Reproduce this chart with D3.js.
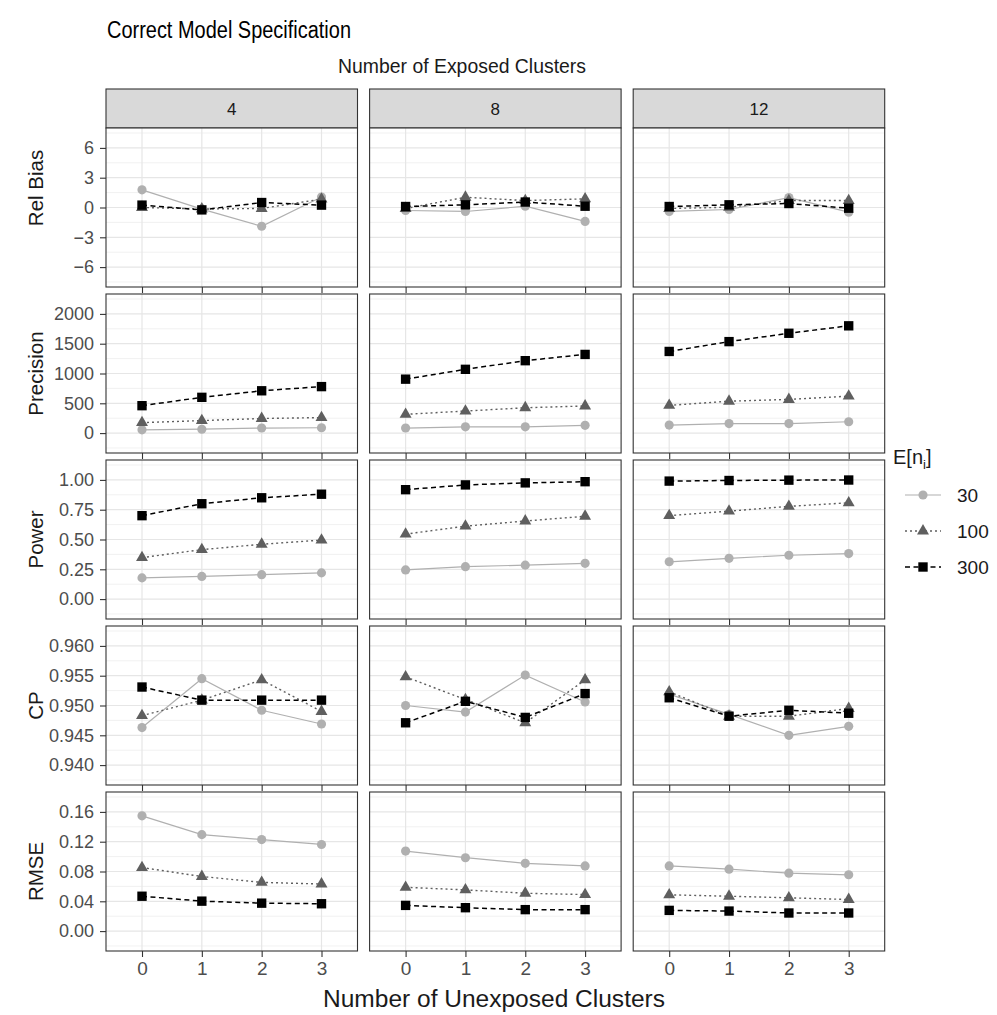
<!DOCTYPE html>
<html>
<head>
<meta charset="utf-8">
<script src="https://cdn.jsdelivr.net/npm/d3@7"></script>
<style>
  body { margin: 0; background: #fff; }
  text { font-family: "Liberation Sans", Arial, sans-serif; }
</style>
</head>
<body>
<svg id="chart" width="997" height="1015"></svg>
<script>
// ---- data ----
const exposed = ["4", "8", "12"];
const unexposed = [0, 1, 2, 3];
const sizes = ["30", "100", "300"];
const metricNames = ["Rel Bias", "Precision", "Power", "CP", "RMSE"];

// each metric: [exposed 4, 8, 12] x [n=30, n=100, n=300] x unexposed 0..3
const relBias = [
  [[1.78, -0.17, -1.89, 1.05], [0.0, -0.15, -0.1, 0.85], [0.24, -0.24, 0.5, 0.24]],
  [[-0.3, -0.4, 0.13, -1.4], [-0.1, 1.03, 0.7, 0.87], [0.1, 0.27, 0.55, 0.13]],
  [[-0.4, -0.2, 1.0, -0.47], [-0.1, 0.03, 0.7, 0.7], [0.1, 0.27, 0.4, -0.07]]
];
const precision = [
  [[55, 65, 85, 90], [175, 210, 245, 260], [460, 600, 710, 780]],
  [[85, 105, 105, 130], [315, 370, 425, 455], [905, 1070, 1215, 1320]],
  [[135, 160, 160, 190], [465, 535, 565, 620], [1370, 1535, 1675, 1800]]
];
const power = [
  [[0.178, 0.19, 0.205, 0.22], [0.348, 0.415, 0.46, 0.495], [0.70, 0.80, 0.85, 0.88]],
  [[0.245, 0.272, 0.285, 0.30], [0.545, 0.612, 0.655, 0.695], [0.918, 0.958, 0.975, 0.985]],
  [[0.313, 0.342, 0.368, 0.382], [0.70, 0.738, 0.778, 0.808], [0.99, 0.995, 0.998, 0.999]]
];
const cp = [
  [[0.9463, 0.9545, 0.9492, 0.9469], [0.9483, 0.9509, 0.9543, 0.9490], [0.9531, 0.9509, 0.9509, 0.9509]],
  [[0.9500, 0.9489, 0.9551, 0.9506], [0.9548, 0.9510, 0.9471, 0.9543], [0.9471, 0.9507, 0.9480, 0.9520]],
  [[0.9519, 0.9485, 0.9450, 0.9465], [0.9523, 0.9482, 0.9482, 0.9495], [0.9513, 0.9482, 0.9492, 0.9487]]
];
const rmse = [
  [[0.1547, 0.1295, 0.1229, 0.1163], [0.0853, 0.0733, 0.0654, 0.0632], [0.0468, 0.0402, 0.0375, 0.0367]],
  [[0.1074, 0.0985, 0.0910, 0.0875], [0.0588, 0.0553, 0.0508, 0.0490], [0.0345, 0.0314, 0.0288, 0.0288]],
  [[0.0875, 0.0831, 0.0778, 0.0756], [0.0487, 0.0468, 0.0447, 0.0424], [0.0278, 0.0269, 0.0243, 0.0243]]
];

const relBiasTicks = [-6, -3, 0, 3, 6];
const precisionTicks = [0, 500, 1000, 1500, 2000];
const powerTicks = [0, 0.25, 0.5, 0.75, 1];
const cpTicks = [0.94, 0.945, 0.95, 0.955, 0.96];
const rmseTicks = [0, 0.04, 0.08, 0.12, 0.16];

const metricData = [relBias, precision, power, cp, rmse];
const metricTicks = [relBiasTicks, precisionTicks, powerTicks, cpTicks, rmseTicks];
const metricFormats = [d3.format("d"), d3.format("d"), d3.format(".2f"), d3.format(".3f"), d3.format(".2f")];

// ---- layout ----
const colLeft = 106, colStep = 263.6, panelW = 251.5;
const rowTop = 128, rowStep = 166, panelH = 159;
const stripTop = 89, stripH = 39;

const seriesStyle = {
  "30":  { color: "#b0b0b0", dash: null,    width: 1.2, symbol: d3.symbolCircle,   size: 66 },
  "100": { color: "#5f5f5f", dash: "2,3",   width: 1.4, symbol: d3.symbolTriangle, size: 62 },
  "300": { color: "#000000", dash: "5,3.5", width: 1.5, symbol: d3.symbolSquare,   size: 88 }
};

const svg = d3.select("#chart");

svg.append("text")
  .attr("x", 107).attr("y", 38)
  .attr("font-size", 23).attr("fill", "#000")
  .attr("textLength", 244).attr("lengthAdjust", "spacingAndGlyphs")
  .text("Correct Model Specification");

svg.append("text")
  .attr("x", 462).attr("y", 73)
  .attr("text-anchor", "middle")
  .attr("font-size", 20).attr("fill", "#1a1a1a")
  .attr("textLength", 248).attr("lengthAdjust", "spacingAndGlyphs")
  .text("Number of Exposed Clusters");

svg.append("text")
  .attr("x", 494).attr("y", 1007)
  .attr("text-anchor", "middle")
  .attr("font-size", 23).attr("fill", "#1a1a1a")
  .attr("textLength", 342).attr("lengthAdjust", "spacingAndGlyphs")
  .text("Number of Unexposed Clusters");

const x = d3.scalePoint().domain(unexposed).range([36, panelW - 36]);

// strips
exposed.forEach((e, c) => {
  const g = svg.append("g").attr("transform", `translate(${colLeft + c * colStep},${stripTop})`);
  g.append("rect").attr("width", panelW).attr("height", stripH)
    .attr("fill", "#d9d9d9").attr("stroke", "#333").attr("stroke-width", 1.1);
  g.append("text").attr("x", panelW / 2).attr("y", stripH / 2 + 6.5)
    .attr("text-anchor", "middle").attr("font-size", 17).attr("fill", "#1a1a1a")
    .text(e);
});

metricNames.forEach((name, r) => {
  const ticks = metricTicks[r];
  const lo = d3.min(ticks), hi = d3.max(ticks);
  const pad = (hi - lo) * 0.167;
  const y = d3.scaleLinear().domain([lo - pad, hi + pad]).range([panelH, 0]);
  const step = ticks[1] - ticks[0];
  const minor = d3.range(lo - step / 2, hi + step, step).filter(v => v > lo - pad && v < hi + pad);
  const top = rowTop + r * rowStep;

  // y axis title (first row is centred on strip + panel)
  const titleMid = r === 0 ? (stripTop + top + panelH) / 2 : top + panelH / 2;
  svg.append("text")
    .attr("transform", `translate(43,${titleMid}) rotate(-90)`)
    .attr("text-anchor", "middle").attr("font-size", 20.5).attr("fill", "#1a1a1a")
    .text(name);

  // y axis on first column
  const yAxis = svg.append("g").attr("transform", `translate(${colLeft},${top})`)
    .call(d3.axisLeft(y).tickValues(ticks).tickFormat(metricFormats[r]).tickSize(6).tickPadding(6));
  yAxis.select(".domain").remove();
  yAxis.selectAll("line").attr("stroke", "#333").attr("stroke-width", 1.1);
  yAxis.selectAll("text").attr("font-size", 18).attr("fill", "#4d4d4d")
    .attr("font-family", "Liberation Sans, Arial, sans-serif");

  exposed.forEach((e, c) => {
    const g = svg.append("g").attr("transform", `translate(${colLeft + c * colStep},${top})`);
    g.append("rect").attr("width", panelW).attr("height", panelH).attr("fill", "#fff");
    g.selectAll(".minor").data(minor).join("line")
      .attr("x1", 0).attr("x2", panelW)
      .attr("y1", d => y(d)).attr("y2", d => y(d))
      .attr("stroke", "#ebebeb").attr("stroke-width", 0.7);
    g.selectAll(".major").data(ticks).join("line")
      .attr("x1", 0).attr("x2", panelW)
      .attr("y1", d => y(d)).attr("y2", d => y(d))
      .attr("stroke", "#e6e6e6").attr("stroke-width", 1.2);
    g.selectAll(".vmajor").data(unexposed).join("line")
      .attr("x1", d => x(d)).attr("x2", d => x(d))
      .attr("y1", 0).attr("y2", panelH)
      .attr("stroke", "#e6e6e6").attr("stroke-width", 1.2);

    const line = d3.line().x((d, i) => x(unexposed[i])).y(d => y(d));
    sizes.forEach((s, k) => {
      const st = seriesStyle[s];
      const vals = metricData[r][c][k];
      g.append("path").datum(vals)
        .attr("d", line).attr("fill", "none")
        .attr("stroke", st.color).attr("stroke-width", st.width)
        .attr("stroke-dasharray", st.dash);
      g.selectAll(null).data(vals).join("path")
        .attr("transform", (d, i) => `translate(${x(unexposed[i])},${y(d)})`)
        .attr("d", d3.symbol().type(st.symbol).size(st.size))
        .attr("fill", st.color);
    });

    g.append("rect").attr("width", panelW).attr("height", panelH)
      .attr("fill", "none").attr("stroke", "#333").attr("stroke-width", 1.1);

    // x ticks under every panel, labels only on last row
    const xAxis = g.append("g").attr("transform", `translate(0,${panelH})`)
      .call(d3.axisBottom(x).tickSize(6).tickPadding(5)
        .tickFormat(r === metricNames.length - 1 ? d3.format("d") : ""));
    xAxis.select(".domain").remove();
    xAxis.selectAll("line").attr("stroke", "#333").attr("stroke-width", 1.1);
    xAxis.selectAll("text").attr("font-size", 19).attr("fill", "#4d4d4d")
      .attr("font-family", "Liberation Sans, Arial, sans-serif");
  });
});

// legend
const legend = svg.append("g").attr("transform", "translate(893,0)");
const title = legend.append("text").attr("x", 0).attr("y", 464)
  .attr("font-size", 20).attr("fill", "#1a1a1a");
title.append("tspan").text("E[n");
title.append("tspan").attr("font-size", 13).attr("dy", 5).text("i");
title.append("tspan").attr("dy", -5).text("]");

sizes.forEach((s, k) => {
  const st = seriesStyle[s];
  const ly = 495 + k * 36;
  legend.append("line").attr("x1", 12).attr("x2", 48).attr("y1", ly).attr("y2", ly)
    .attr("stroke", st.color).attr("stroke-width", st.width).attr("stroke-dasharray", st.dash);
  legend.append("path").attr("transform", `translate(30,${ly})`)
    .attr("d", d3.symbol().type(st.symbol).size(st.size)).attr("fill", st.color);
  legend.append("text").attr("x", 64).attr("y", ly + 7)
    .attr("font-size", 19).attr("fill", "#1a1a1a").text(s);
});
</script>
</body>
</html>
